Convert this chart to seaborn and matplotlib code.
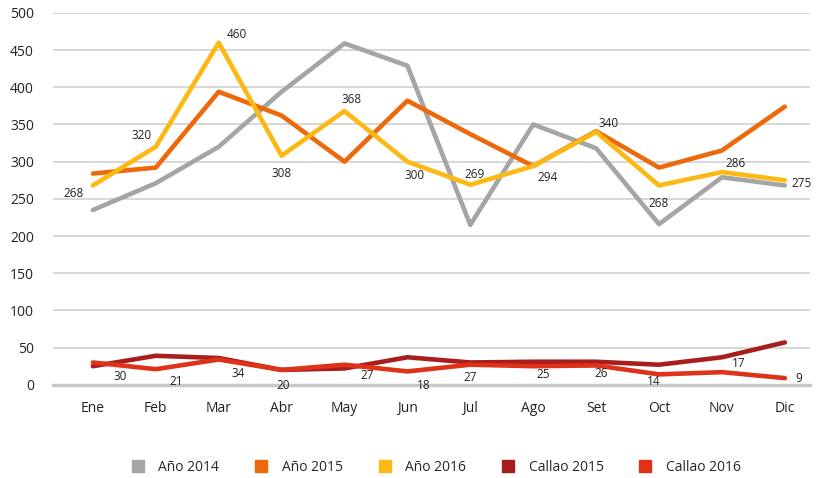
import pandas as pd
import matplotlib
matplotlib.use("Agg")
import matplotlib.pyplot as plt
import seaborn as sns

MONTHS = ["Ene", "Feb", "Mar", "Abr", "May", "Jun",
          "Jul", "Ago", "Set", "Oct", "Nov", "Dic"]

ANO_2014 = [235, 271, 320, 394, 459, 429, 215, 350, 318, 216, 279, 268]
ANO_2015 = [284, 292, 394, 362, 300, 382, 337, 294, 341, 292, 315, 374]
ANO_2016 = [268, 320, 460, 308, 368, 300, 269, 294, 340, 268, 286, 275]
CALLAO_2015 = [25, 39, 36, 20, 22, 37, 30, 31, 31, 27, 37, 57]
CALLAO_2016 = [30, 21, 34, 20, 27, 18, 27, 25, 26, 14, 17, 9]

SERIES = ["Año 2014", "Año 2015", "Año 2016", "Callao 2015", "Callao 2016"]
COLORS = ["#A5A5A5", "#EC6A0C", "#FDB913", "#A81D1D", "#DE3219"]

# label offsets (points) for the labelled series
OFF_2016 = [(-14, -6), (-10, 8), (13, 6), (0, -13), (5, 8), (5, -10),
            (3, 7), (10, -8), (9, 6), (0, -13), (10, 6), (12, -2)]
OFF_C16 = [(20, -10), (15, -9), (14, -10), (1, -11), (16, -8), (12, -10),
           (0, -9), (7, -6), (4, -6), (-4, -5), (12, 6), (10, 0)]


def main():
    df = pd.DataFrame({
        "mes": MONTHS * 5,
        "valor": ANO_2014 + ANO_2015 + ANO_2016 + CALLAO_2015 + CALLAO_2016,
        "serie": sum([[s] * 12 for s in SERIES], []),
    })

    sns.set_style("white")
    plt.rcParams["font.family"] = ["Open Sans", "DejaVu Sans"]

    fig = plt.figure(figsize=(8.19, 4.78), dpi=100)
    ax = fig.add_axes([0.065, 0.195, 0.924, 0.778])

    sns.lineplot(data=df, x="mes", y="valor", hue="serie", hue_order=SERIES,
                 palette=COLORS, linewidth=3.3, sort=False, ax=ax, legend=False)

    for i, (v, off) in enumerate(zip(ANO_2016, OFF_2016)):
        ax.annotate(str(v), (i, v), xytext=off, textcoords="offset points",
                    ha="center", va="center", fontsize=8.5, color="#222222")
    for i, (v, off) in enumerate(zip(CALLAO_2016, OFF_C16)):
        ax.annotate(str(v), (i, v), xytext=off, textcoords="offset points",
                    ha="center", va="center", fontsize=8.5, color="#222222")

    ax.set_ylim(0, 500)
    ax.set_xlim(-0.63, 11.4)
    ax.set_yticks(range(0, 501, 50))
    ax.yaxis.grid(True, color="#D4D4D4", linewidth=1.3)
    ax.set_axisbelow(True)
    for s in ["top", "right", "left"]:
        ax.spines[s].set_visible(False)
    ax.spines["bottom"].set_color("#C8C8C8")
    ax.spines["bottom"].set_linewidth(2.5)
    ax.tick_params(axis="both", length=0, labelsize=10, colors="#222222")
    ax.tick_params(axis="x", pad=12)
    ax.tick_params(axis="y", pad=14)
    ax.set_xlabel("")
    ax.set_ylabel("")

    handles = [plt.Line2D([], [], marker="s", linestyle="", markersize=9,
                          color=c) for c in COLORS]
    fig.legend(handles, SERIES, loc="center", bbox_to_anchor=(0.528, 0.023),
               ncol=5, frameon=False, fontsize=10, columnspacing=2.0,
               handletextpad=0.5)

    fig.savefig("out.png", dpi=100)
    plt.close(fig)


if __name__ == "__main__":
    main()
